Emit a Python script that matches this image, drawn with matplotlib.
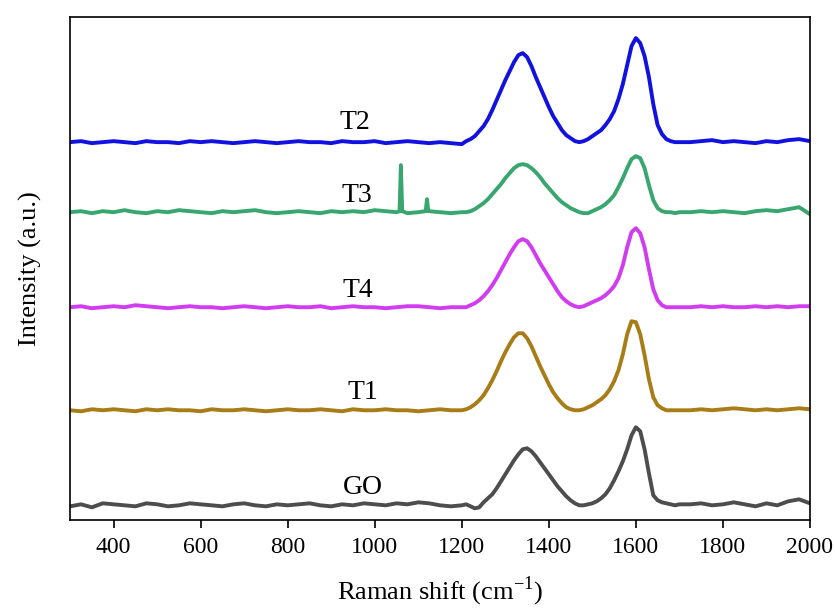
import numpy as np
import matplotlib
matplotlib.use('Agg')
import matplotlib.pyplot as plt

plt.rcParams['font.family'] = ['Liberation Serif', 'DejaVu Serif']
plt.rcParams['mathtext.fontset'] = 'custom'
plt.rcParams['mathtext.rm'] = 'Liberation Serif'

# sampling grid of the spectra (cm-1)
shift = np.concatenate([np.arange(300, 1200, 25), np.arange(1200, 1701, 10), np.arange(1725, 2001, 25)])

# intensity above each curve's own baseline (a.u.)
base_t2 = [0, 1, -1, 0, 1, 0, -1, 1, 0, 0, -1, 1, 0, 1, 0, -1, 0, 1, 0, -1, 0, 1, 0, 0, -1, 1, 0, 0, 1, -1, 0, 1, 0, -1, 0, -1]
peak_t2 = [-2, 1, 3, 6, 11, 16, 23, 32, 42, 52, 62, 71, 80, 87, 89, 85, 76, 65, 55, 45, 35, 26, 19, 12, 7, 4, 1, 0, 1, 3,
           6, 9, 12, 17, 23, 31, 43, 58, 77, 96, 104, 99, 86, 65, 38, 17, 8, 3, 1, 0, 0]
tail_t2 = [0, 1, 2, 0, 1, 0, -1, 1, 0, 2, 3, 1]

base_t3 = [0, 1, -1, 1, 0, 2, 0, -1, 1, 0, 2, 1, 0, -1, 1, 0, 1, 2, 0, -1, 0, 1, 0, -1, 1, 0, 1, 0, 2, 1, 0, -1, 0, 1, 0, -1]
peak_t3 = [0, 0, 1, 3, 6, 9, 13, 18, 23, 28, 34, 39, 44, 47, 48, 47, 44, 40, 35, 29, 24, 19, 14, 10, 7, 4, 2, 0, -1, -1,
           1, 3, 5, 8, 12, 17, 25, 34, 44, 53, 56, 54, 44, 27, 12, 4, 1, 0, 0, -1, 0]
tail_t3 = [0, 1, 0, 1, 0, -1, 1, 2, 1, 3, 5, -2]
spike_x = [1057, 1060, 1063, 1117, 1120, 1123]
spike_t3 = [1, 47, 1, 1, 13, 1]

base_t4 = [0, 1, -1, 0, 1, 0, 2, 1, 0, -1, 0, 1, 0, 0, -1, 0, 1, 0, -1, 0, 1, 0, 0, 1, -1, 0, 1, 0, 0, -1, 0, 1, 1, 0, -1, 0]
peak_t4 = [0, 0, 2, 4, 7, 11, 16, 22, 29, 37, 45, 53, 60, 66, 68, 66, 60, 52, 44, 37, 30, 23, 16, 10, 6, 3, 1, 0, 1, 3,
           5, 7, 9, 12, 16, 21, 29, 42, 60, 75, 79, 74, 60, 38, 18, 7, 2, 0, 0, 0, 0]
tail_t4 = [0, 1, 0, 1, 0, 0, 1, 0, 1, 0, 1, 1]

base_t1 = [0, -1, 1, 0, 1, 0, -1, 1, 0, 1, 0, 0, -1, 1, 0, 0, 1, 0, -1, 0, 1, 0, 0, 1, 0, -1, 1, 0, 0, 1, 0, 0, -1, 0, 1, 0]
peak_t1 = [0, 1, 3, 6, 10, 15, 22, 30, 39, 49, 58, 66, 73, 77, 77, 72, 64, 54, 44, 35, 26, 18, 12, 7, 3, 1, 0, 0, 1, 3,
           5, 8, 11, 15, 21, 29, 40, 56, 76, 89, 88, 76, 55, 31, 13, 5, 2, 0, 0, 0, 0]
tail_t1 = [0, 1, 0, 1, 2, 1, 0, 1, 0, 1, 2, 1]

base_go = [-1, 1, -2, 2, 1, 0, -1, 2, 1, -1, 0, 2, 1, 0, -1, 1, 2, 0, -1, 1, 0, 1, 2, 0, -1, 1, 0, 2, 1, 0, 2, 1, 3, 2, 0, -1]
peak_go = [0, 1, -1, -3, -2, 3, 7, 11, 17, 24, 31, 38, 45, 51, 56, 57, 54, 49, 43, 37, 31, 25, 19, 14, 9, 5, 2, 0, 0, 1,
           2, 4, 7, 11, 17, 25, 34, 44, 56, 70, 78, 74, 56, 32, 10, 5, 3, 2, 1, 0, 1]
tail_go = [1, 2, 0, 1, 3, 1, -1, 2, 0, 4, 6, 2]

labels = ['T2', 'T3', 'T4', 'T1', 'GO']
offsets = [378, 308, 213, 110, 15]
colors = ['#1212e0', '#38a66e', '#d23cf0', '#a87c16', '#4d4d4d']
label_pos = [(955, 398), (960, 325), (960, 230), (972, 128), (972, 33)]

spectra = [base_t2 + peak_t2 + tail_t2,
           base_t3 + peak_t3 + tail_t3,
           base_t4 + peak_t4 + tail_t4,
           base_t1 + peak_t1 + tail_t1,
           base_go + peak_go + tail_go]

fig, ax = plt.subplots(figsize=(8.35, 6.1), dpi=100)
fig.subplots_adjust(left=0.084, right=0.970, bottom=0.147, top=0.972)

for i in range(len(labels)):
    x = shift
    y = np.array(spectra[i], dtype=float)
    if labels[i] == 'T3':
        # two narrow spikes only in T3
        x = np.concatenate([x, spike_x])
        y = np.concatenate([y, spike_t3])
        order = np.argsort(x)
        x, y = x[order], y[order]
    ax.plot(x, y + offsets[i], color=colors[i], linewidth=2.8)
    ax.text(label_pos[i][0], label_pos[i][1], labels[i], fontsize=20, ha='center', va='center')

ax.set_xlim(300, 2000)
ax.set_ylim(0, 503)
ax.set_xticks(range(400, 2001, 200))
ax.set_yticks([])
ax.tick_params(axis='x', direction='out', length=6, width=1.2, labelsize=17, pad=6)
for s in ax.spines.values():
    s.set_linewidth(1.2)
ax.set_xlabel('Raman shift (cm$^{-1}$)', fontsize=19, labelpad=12)
ax.set_ylabel('Intensity (a.u.)', fontsize=19, labelpad=20)

plt.savefig('out.png', dpi=100)
